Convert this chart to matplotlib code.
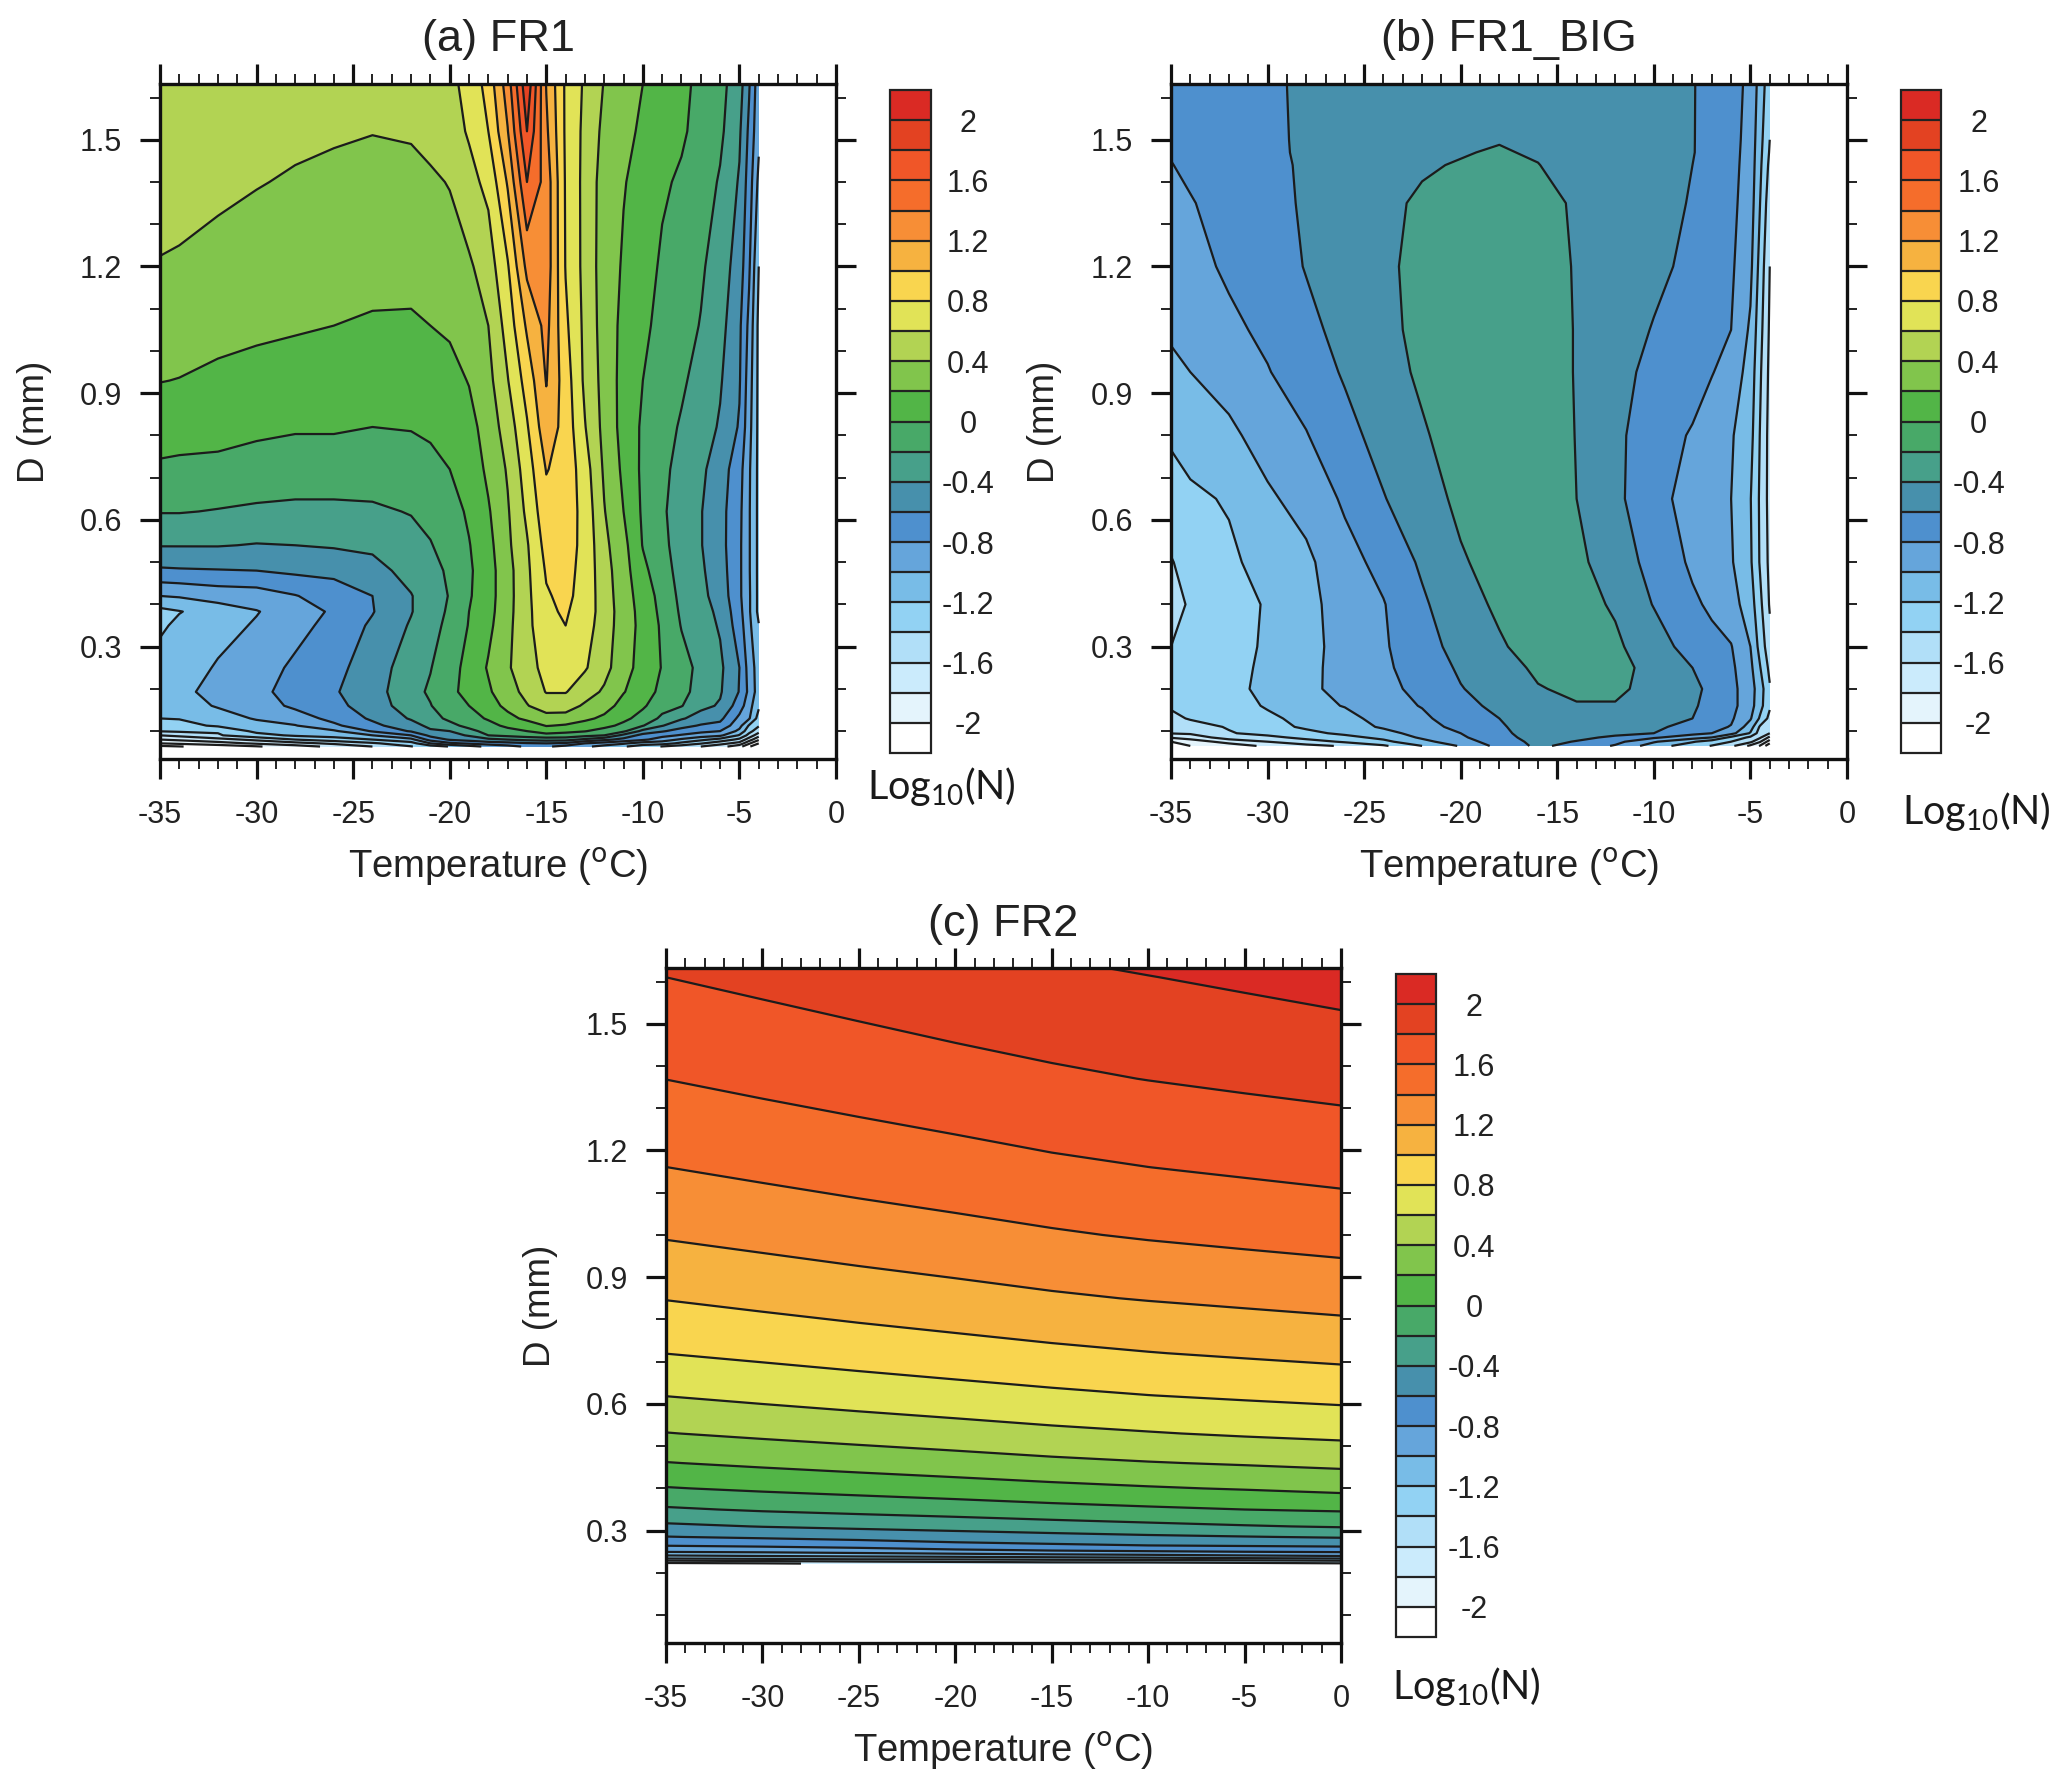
import numpy as np
import matplotlib
matplotlib.use("Agg")
import matplotlib.pyplot as plt
from matplotlib.colors import ListedColormap, BoundaryNorm
from matplotlib.cm import ScalarMappable

plt.rcParams['font.family'] = ['Liberation Sans', 'DejaVu Sans']
plt.rcParams['mathtext.fontset'] = 'custom'
plt.rcParams['mathtext.rm'] = 'Lato'
plt.rcParams['mathtext.default'] = 'rm'

W, H = 2067, 1789

fill_colors = ['#FFFFFF', '#E4F4FC', '#CBEBFC', '#B1DFF8', '#92D2F3', '#78BCE7', '#65A5DB', '#4E90CE',
               '#4790AC', '#47A08A', '#48A968', '#52B547', '#81C54C', '#B2D353', '#E1E357', '#F9D54F',
               '#F6B240', '#F78E36', '#F56D2B', '#F05628', '#E34222', '#DA2A24']
fill_levels = [-2.0, -1.8, -1.6, -1.4, -1.2, -1.0, -0.8, -0.6, -0.4, -0.2, 0.0,
               0.2, 0.4, 0.6, 0.8, 1.0, 1.2, 1.4, 1.6, 1.8, 2.0]
line_levels = [-2.2] + fill_levels
bar_edges = [-2.2] + fill_levels + [2.2]
bar_ticks = [-2, -1.6, -1.2, -0.8, -0.4, 0, 0.4, 0.8, 1.2, 1.6, 2]
bar_labels = ['-2', '-1.6', '-1.2', '-0.8', '-0.4', '0', '0.4', '0.8', '1.2', '1.6', '2']
x_ticks = [-35, -30, -25, -20, -15, -10, -5, 0]
x_labels = ['-35', '-30', '-25', '-20', '-15', '-10', '-5', '0']
y_ticks = [0.3, 0.6, 0.9, 1.2, 1.5]
y_labels = ['0.3', '0.6', '0.9', '1.2', '1.5']

# ---- (a) FR1: one list per temperature, values along fr1_diam
fr1_temp = [-35, -34, -32, -30, -28, -26, -24, -22, -21, -20, -19, -18, -17, -16, -15, -14, -13,
            -12, -11, -10, -9, -8, -7, -6, -5, -4.5, -4]
fr1_diam = [.0635, .071, .08, .09, .10, .113, .13, .16, .193, .25, .35, .383, .42, .48, .54, .62,
            .72, .82, .93, 1.06, 1.2, 1.4, 1.52, 1.632]
fr1_log = [
 [-2.25,-2.0,-1.8,-1.6,-1.39,-1.3,-1.2,-1.12,-1.08,-1.1,-1.24,-1.26,-1.0,-.63,-.39,-.19,-.03,.09,.205,.29,.39,.47,.5,.52],
 [-2.21,-1.96,-1.76,-1.55,-1.37,-1.27,-1.19,-1.1,-1.06,-1.1,-1.15,-1.21,-.98,-.62,-.39,-.19,-.04,.08,.195,.29,.38,.46,.5,.52],
 [-2.12,-1.88,-1.67,-1.42,-1.38,-1.17,-1.1,-.98,-.92,-.98,-1.07,-1.1,-.92,-.61,-.39,-.21,-.05,.07,.16,.26,.34,.44,.48,.51],
 [-2.02,-1.77,-1.55,-1.27,-1.15,-1.08,-.98,-.9,-.87,-.9,-.98,-1.01,-.9,-.6,-.41,-.23,-.08,.04,.13,.24,.3,.41,.46,.5],
 [-1.89,-1.67,-1.4,-1.17,-1.1,-1.01,-.9,-.76,-.7,-.76,-.87,-.9,-.81,-.56,-.4,-.24,-.1,.02,.11,.22,.28,.38,.44,.49],
 [-1.75,-1.56,-1.3,-1.12,-1.03,-.84,-.74,-.66,-.62,-.66,-.73,-.77,-.7,-.55,-.38,-.24,-.1,.02,.1,.2,.27,.36,.42,.48],
 [-1.6,-1.43,-1.2,-1.0,-.78,-.65,-.57,-.5,-.48,-.5,-.57,-.61,-.6,-.47,-.36,-.23,-.1,0,.09,.18,.26,.34,.405,.46],
 [-1.41,-1.28,-1.06,-.8,-.58,-.48,-.38,-.3,-.27,-.3,-.38,-.41,-.41,-.33,-.27,-.19,-.09,.01,.08,.18,.25,.34,.42,.47],
 [-1.3,-1.0,-.72,-.55,-.43,-.35,-.29,-.21,-.17,-.21,-.28,-.29,-.29,-.26,-.21,-.15,-.05,.03,.1,.2,.27,.37,.46,.5],
 [-1.19,-.84,-.58,-.47,-.4,-.27,-.15,-.07,-.03,-.06,-.14,-.17,-.19,-.17,-.13,-.08,0,.06,.13,.23,.31,.41,.52,.56],
 [-1.07,-.77,-.52,-.38,-.27,-.13,-.07,0,.04,.05,.01,0,-.02,-.03,-.01,.03,.08,.13,.21,.31,.37,.54,.62,.65],
 [-.96,-.7,-.45,-.2,-.12,-.06,.02,.1,.17,.22,.15,.13,.12,.12,.14,.18,.24,.29,.34,.4,.5,.65,.8,.88],
 [-.87,-.67,-.4,-.15,-.06,.04,.13,.26,.33,.38,.35,.34,.33,.33,.36,.38,.42,.49,.59,.68,.78,1.02,1.19,1.3],
 [-.77,-.62,-.35,-.1,0,.08,.25,.39,.45,.5,.54,.54,.55,.56,.58,.64,.7,.78,.88,1.03,1.25,1.6,1.8,1.95],
 [-.77,-.6,-.32,-.06,.08,.21,.33,.49,.61,.68,.75,.77,.78,.82,.87,.93,1.01,1.13,1.21,1.26,1.32,1.32,1.24,1.19],
 [-.87,-.63,-.33,-.07,.04,.18,.32,.49,.61,.71,.8,.82,.85,.87,.89,.91,.93,.92,.9,.84,.79,.78,.77,.77],
 [-.96,-.8,-.44,-.14,.01,.12,.24,.37,.49,.62,.69,.71,.72,.73,.74,.73,.69,.61,.56,.55,.54,.54,.55,.57],
 [-1.07,-.88,-.55,-.2,-.08,.06,.16,.28,.37,.47,.5,.51,.5,.48,.45,.41,.37,.34,.33,.31,.3,.31,.35,.39],
 [-1.18,-.97,-.66,-.46,-.16,-.05,.05,.13,.21,.27,.3,.3,.29,.28,.26,.2,.16,.13,.13,.15,.18,.21,.25,.29],
 [-1.3,-1.1,-.76,-.67,-.46,-.19,-.08,.03,.09,.13,.14,.13,.11,.05,-.01,-.03,-.04,-.03,0,.05,.09,.14,.17,.2],
 [-1.41,-1.11,-.9,-.74,-.58,-.39,-.24,-.13,-.05,-.01,-.03,-.05,-.07,-.12,-.15,-.17,-.15,-.13,-.1,-.07,-.03,.03,.08,.12],
 [-1.5,-1.25,-1.03,-.82,-.68,-.53,-.38,-.19,-.13,-.13,-.21,-.23,-.25,-.27,-.29,-.3,-.27,-.22,-.17,-.12,-.07,-.03,.03,.05],
 [-1.6,-1.38,-1.15,-.9,-.75,-.62,-.48,-.35,-.29,-.25,-.31,-.33,-.35,-.37,-.39,-.39,-.36,-.31,-.27,-.21,-.17,-.1,-.07,-.05],
 [-1.72,-1.53,-1.27,-.96,-.8,-.66,-.55,-.42,-.38,-.36,-.42,-.44,-.48,-.51,-.53,-.53,-.5,-.42,-.38,-.33,-.3,-.22,-.16,-.14],
 [-1.93,-1.67,-1.45,-1.22,-1.05,-.93,-.85,-.7,-.61,-.6,-.7,-.73,-.76,-.76,-.76,-.75,-.72,-.62,-.58,-.56,-.49,-.42,-.37,-.31],
 [-2.17,-1.97,-1.7,-1.47,-1.33,-1.22,-.98,-.92,-.85,-.88,-.95,-.97,-.97,-.98,-.98,-.98,-.97,-.93,-.9,-.85,-.77,-.69,-.64,-.58],
 [-2.4,-2.2,-1.97,-1.72,-1.52,-1.38,-1.28,-1.17,-1.1,-1.1,-1.19,-1.25,-1.25,-1.25,-1.25,-1.25,-1.25,-1.25,-1.25,-1.25,-1.2,-1.05,-.95,-.92],
]

# ---- (b) FR1_BIG
big_temp = [-35, -34, -32, -30, -28, -26, -24, -22, -20, -18, -16, -14, -12, -10, -8, -7, -6, -5, -4.5, -4]
big_diam = [.065, .075, .085, .095, .11, .13, .16, .2, .25, .3, .4, .5, .65, .8, .95, 1.05, 1.2, 1.35, 1.44, 1.47, 1.5, 1.632]
big_log = [
 [-2.1,-2.0,-1.78,-1.59,-1.53,-1.46,-1.37,-1.33,-1.37,-1.4,-1.46,-1.41,-1.3,-1.17,-1.05,-.97,-.91,-.85,-.805,-.79,-.77,-.72],
 [-2.0,-1.9,-1.72,-1.57,-1.5,-1.38,-1.3,-1.26,-1.3,-1.34,-1.38,-1.34,-1.24,-1.11,-1.0,-.93,-.86,-.81,-.77,-.755,-.74,-.7],
 [-1.9,-1.73,-1.5,-1.42,-1.38,-1.32,-1.29,-1.28,-1.3,-1.31,-1.29,-1.24,-1.18,-1.04,-.92,-.84,-.77,-.74,-.72,-.71,-.7,-.67],
 [-1.76,-1.6,-1.47,-1.32,-1.27,-1.24,-1.18,-1.13,-1.14,-1.16,-1.18,-1.12,-1.03,-.92,-.81,-.76,-.7,-.68,-.665,-.655,-.65,-.64],
 [-1.65,-1.5,-1.33,-1.25,-1.17,-1.14,-1.07,-1.05,-1.06,-1.07,-1.06,-1.04,-.93,-.81,-.7,-.65,-.59,-.57,-.565,-.56,-.56,-.56],
 [-1.58,-1.37,-1.26,-1.16,-1.11,-1.07,-.99,-.93,-.92,-.92,-.91,-.87,-.77,-.66,-.58,-.54,-.49,-.47,-.47,-.47,-.47,-.48],
 [-1.43,-1.25,-1.15,-1.08,-.97,-.92,-.88,-.85,-.83,-.82,-.81,-.74,-.61,-.53,-.47,-.45,-.44,-.43,-.435,-.44,-.44,-.45],
 [-1.2,-1.06,-.97,-.91,-.88,-.84,-.79,-.75,-.72,-.69,-.63,-.57,-.48,-.42,-.37,-.35,-.34,-.38,-.415,-.43,-.44,-.45],
 [-.98,-.88,-.83,-.8,-.74,-.69,-.65,-.61,-.57,-.52,-.47,-.42,-.36,-.32,-.3,-.29,-.29,-.32,-.39,-.41,-.43,-.45],
 [-.74,-.71,-.67,-.65,-.63,-.6,-.56,-.51,-.47,-.42,-.37,-.33,-.28,-.25,-.24,-.24,-.24,-.27,-.36,-.385,-.41,-.44],
 [-.56,-.54,-.52,-.5,-.48,-.46,-.44,-.41,-.37,-.33,-.29,-.26,-.23,-.22,-.21,-.21,-.22,-.27,-.395,-.42,-.44,-.46],
 [-.67,-.61,-.56,-.53,-.5,-.46,-.41,-.37,-.35,-.34,-.34,-.36,-.4,-.41,-.42,-.42,-.43,-.45,-.48,-.49,-.5,-.52],
 [-.82,-.74,-.63,-.56,-.52,-.46,-.41,-.37,-.35,-.37,-.42,-.49,-.56,-.56,-.54,-.52,-.5,-.5,-.51,-.515,-.52,-.53],
 [-1.1,-.98,-.77,-.6,-.55,-.5,-.46,-.45,-.45,-.5,-.61,-.67,-.72,-.7,-.65,-.61,-.56,-.55,-.545,-.54,-.54,-.55],
 [-1.32,-1.18,-.92,-.74,-.69,-.6,-.58,-.56,-.6,-.69,-.77,-.83,-.89,-.82,-.71,-.68,-.64,-.61,-.6,-.59,-.59,-.59],
 [-1.41,-1.3,-1.0,-.8,-.75,-.7,-.65,-.64,-.7,-.75,-.83,-.89,-.95,-.92,-.79,-.75,-.72,-.69,-.68,-.675,-.67,-.66],
 [-1.55,-1.4,-1.25,-.93,-.81,-.77,-.74,-.74,-.76,-.79,-.92,-.98,-1.0,-.98,-.88,-.8,-.77,-.75,-.74,-.735,-.73,-.72],
 [-1.85,-1.55,-1.44,-1.22,-1.1,-.98,-.92,-.92,-.95,-1.0,-1.1,-1.17,-1.19,-1.13,-1.08,-1.03,-.95,-.9,-.88,-.875,-.87,-.85],
 [-2.02,-1.78,-1.57,-1.5,-1.43,-1.23,-1.13,-1.1,-1.19,-1.27,-1.35,-1.42,-1.43,-1.41,-1.37,-1.33,-1.27,-1.2,-1.16,-1.145,-1.13,-1.08],
 [-2.35,-2.1,-1.85,-1.6,-1.55,-1.46,-1.37,-1.38,-1.45,-1.53,-1.62,-1.65,-1.67,-1.67,-1.65,-1.63,-1.6,-1.52,-1.45,-1.42,-1.4,-1.33],
]

# ---- (c) FR2
fr2_temp = [-35, -30, -25, -20, -15, -10, -5, 0]
fr2_diam = [.222, .228, .234, .24, .25, .265, .285, .31, .35, .40, .46, .53, .62, .72, .85, 1.0, 1.16, 1.37, 1.61, 1.632]
fr2_log = [
 [-1.85,-1.64,-1.4,-1.23,-.99,-.79,-.607,-.44,-.226,-.011,.193,.394,.604,.802,1.007,1.216,1.399,1.602,1.8,1.82],
 [-1.82,-1.6,-1.37,-1.2,-.97,-.76,-.571,-.394,-.178,.032,.236,.437,.647,.842,1.051,1.259,1.442,1.646,1.843,1.86],
 [-1.77,-1.56,-1.33,-1.17,-.93,-.72,-.533,-.359,-.141,.07,.277,.477,.688,.882,1.095,1.301,1.484,1.688,1.886,1.9],
 [-1.73,-1.53,-1.33,-1.14,-.88,-.66,-.5,-.325,-.105,.108,.316,.516,.726,.921,1.135,1.34,1.524,1.729,1.93,1.95],
 [-1.7,-1.5,-1.3,-1.1,-.84,-.63,-.467,-.287,-.065,.148,.357,.556,.764,.96,1.176,1.381,1.566,1.77,1.964,1.98],
 [-1.68,-1.5,-1.27,-1.07,-.82,-.6,-.435,-.25,-.031,.183,.39,.589,.798,.994,1.21,1.417,1.599,1.804,1.996,2.015],
 [-1.65,-1.47,-1.23,-1.03,-.8,-.58,-.409,-.215,0,.213,.417,.621,.826,1.024,1.239,1.447,1.628,1.834,2.03,2.05],
 [-1.62,-1.43,-1.2,-1.0,-.78,-.56,-.384,-.184,.023,.25,.445,.648,.852,1.054,1.267,1.476,1.657,1.862,2.066,2.085],
]

fig = plt.figure(figsize=(W / 100, H / 100), dpi=100)


def rect(l, t, r, b):
    return [l / W, 1 - b / H, (r - l) / W, (b - t) / H]


def panel(box, temp, diam, log, title, title_xy, ylab_x, xlab_y, bar, bar_lab_x, log_xy):
    l, t, r, b = box
    ax = fig.add_axes(rect(l, t, r, b))
    Z = np.array(log).T
    ax.contourf(temp, diam, Z, levels=fill_levels, colors=fill_colors, extend='both')
    ax.contour(temp, diam, Z, levels=line_levels, colors='#1c1c1c', linewidths=1.6, linestyles='solid')
    ax.set_xlim(-35, 0)
    ax.set_ylim(0.034, 1.632)
    ax.set_xticks(x_ticks, x_labels)
    ax.set_yticks(y_ticks, y_labels)
    ax.set_xticks(np.arange(-35, 1, 1), minor=True)
    ax.set_yticks(np.arange(0.1, 1.7, 0.1), minor=True)
    ax.tick_params(which='major', direction='out', length=14.4, width=2.3, top=True, right=True,
                   labelsize=22, color='#111111', labelcolor='#222222')
    ax.tick_params(axis='x', which='major', pad=15)
    ax.tick_params(axis='y', which='major', pad=13)
    ax.tick_params(which='minor', direction='out', length=7, width=1.4, top=True, right=True, color='#222222')
    for s in ax.spines.values():
        s.set_linewidth(2.4)
        s.set_color('#111111')
    fig.text(title_xy[0] / W, 1 - title_xy[1] / H, title, ha='center', va='center', fontsize=32.5, color='#222222')
    fig.text((l + r) / 2 / W, 1 - xlab_y / H, r'Temperature ($^{\mathrm{o}}$C)', ha='center', va='center',
             fontsize=27.5, color='#222222', math_fontfamily='dejavusans')
    fig.text(ylab_x / W, 1 - (t + b) / 2 / H, 'D (mm)', rotation=90, ha='center', va='center', fontsize=26.5, color='#222222')

    cax = fig.add_axes(rect(*bar))
    norm = BoundaryNorm(bar_edges, len(fill_colors))
    cb = fig.colorbar(ScalarMappable(norm=norm, cmap=ListedColormap(fill_colors)), cax=cax,
                      spacing='uniform', drawedges=True, ticks=bar_ticks)
    cb.dividers.set_color('#222222')
    cb.dividers.set_linewidth(1.6)
    cb.outline.set_edgecolor('#222222')
    cb.outline.set_linewidth(1.6)
    cax.minorticks_off()
    pad = (bar_lab_x - bar[2]) * 0.72
    cax.tick_params(length=0, pad=pad, labelsize=22, labelcolor='#222222')
    cax.set_yticks(bar_ticks, bar_labels)
    for lab in cax.get_yticklabels():
        lab.set_ha('center')
    fig.text(log_xy[0] / W, 1 - log_xy[1] / H, r'Log$_{\mathrm{10}}$(N)', ha='center', va='center',
             fontsize=28.5, color='#1a1a1a', family='Lato')
    return ax


panel((160, 84, 836, 759), fr1_temp, fr1_diam, fr1_log, '(a) FR1', (499, 40), 34, 867,
      (890, 90, 930.5, 753), 968, (941, 787))
panel((1171, 84, 1847, 759), big_temp, big_diam, big_log, '(b) FR1_BIG', (1509, 40), 1044, 867,
      (1901, 90, 1941, 753), 1978.5, (1976, 812))
panel((666, 968, 1341, 1643), fr2_temp, fr2_diam, fr2_log, '(c) FR2', (1003, 924), 540, 1751,
      (1396, 974, 1436, 1637), 1474, (1466, 1686))

fig.savefig('out.png', dpi=100)
